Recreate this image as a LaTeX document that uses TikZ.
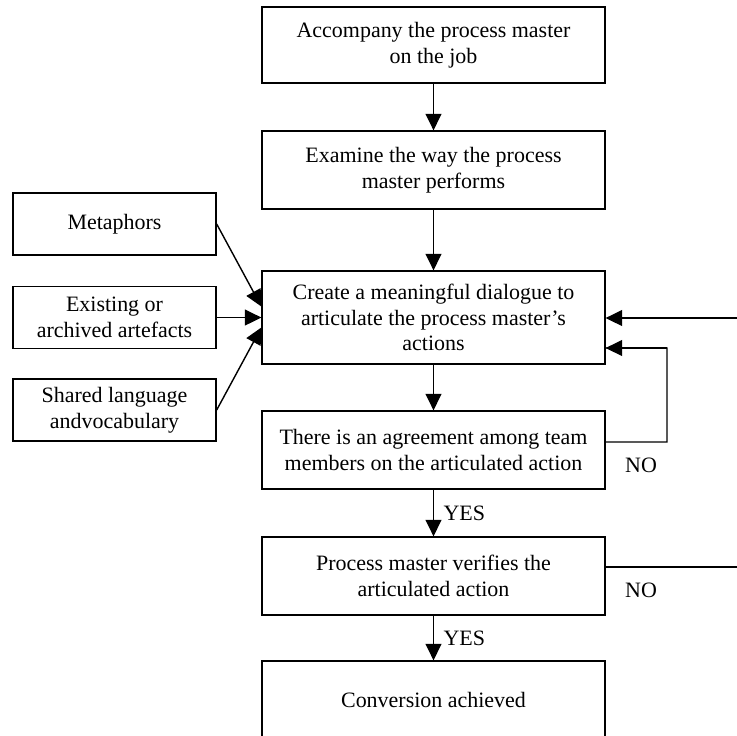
\documentclass[tikz,border=0pt]{standalone}
\usepackage{fontspec}
\setmainfont{Liberation Serif}
\usetikzlibrary{positioning}
\usetikzlibrary{arrows.meta}
\tikzset{% boxes and arrows of the chart
        stepbox/.style={draw, line width=0.8pt, minimum width=6.86cm,
                align=center, font=\fontsize{12.5}{14.6}\selectfont},
        sidebox/.style={draw, line width=0.8pt, minimum width=4.06cm,
                minimum height=1.24cm, align=center, font=\fontsize{12.5}{14.6}\selectfont},
        flow/.style={line width=0.8pt, -{Triangle[length=0.33cm,width=0.32cm]}},
        answer/.style={font=\fontsize{12.5}{14.6}\selectfont}
        }

\begin{document}
\begin{tikzpicture}[x=0.02cm,y=-0.02cm]
\useasboundingbox (0,0) rectangle (737,735);
% main column
\node[stepbox, minimum height=1.52cm] (accompany) at (433.5,45) {Accompany the process master\\on the job};
\node[stepbox, minimum height=1.56cm] (examine) at (433.5,170) {Examine the way the process\\master performs};
\node[stepbox, minimum height=1.86cm] (dialogue) at (433.5,317.5) {Create a meaningful dialogue to\\articulate the process master's\\actions};
\node[stepbox, minimum height=1.56cm] (agree) at (433.5,450) {There is an agreement among team\\members on the articulated action};
\node[stepbox, minimum height=1.56cm] (verify) at (433.5,576) {Process master verifies the\\articulated action};
\node[stepbox, minimum height=1.56cm] (done) at (433.5,700) {Conversion achieved};
% inputs on the left
\node[sidebox] (metaphor) at (114.5,224) {Metaphors};
\node[sidebox] (artefact) at (114.5,317.5) {Existing or\\archived artefacts};
\node[sidebox] (language) at (114.5,410) {Shared language\\andvocabulary};

\draw[flow] (accompany) -- (examine);
\draw[flow] (examine) -- (dialogue);
\draw[flow] (dialogue) -- (agree);
\draw[flow] (agree) -- node[answer, right=2pt] {YES} (verify);
\draw[flow] (verify) -- node[answer, right=2pt] {YES} (done);

\draw[flow] (metaphor.east) -- ([yshift=0.22cm]dialogue.west);
\draw[flow] (artefact.east) -- (dialogue.west);
\draw[flow] (language.east) -- ([yshift=-0.2cm]dialogue.west);

% feedback
\coordinate (loopcorner) at (667,442);
\coordinate (fromright) at (737,318);
\draw[line width=0.8pt] ([yshift=0.16cm]agree.east) -- (loopcorner) |- ([yshift=-0.61cm]dialogue.east) coordinate (loopend);
\draw[flow] (loopcorner |- loopend) -- (loopend);
\draw[flow] (fromright) -- (fromright -| dialogue.east);
\draw[line width=0.8pt] ([yshift=0.18cm]verify.east) -- ++(2.64cm,0);
\node[answer, anchor=west] (no1) at (619,465) {NO};
\node[answer, anchor=west] (no2) at (619,590) {NO};
\end{tikzpicture}
\end{document}
